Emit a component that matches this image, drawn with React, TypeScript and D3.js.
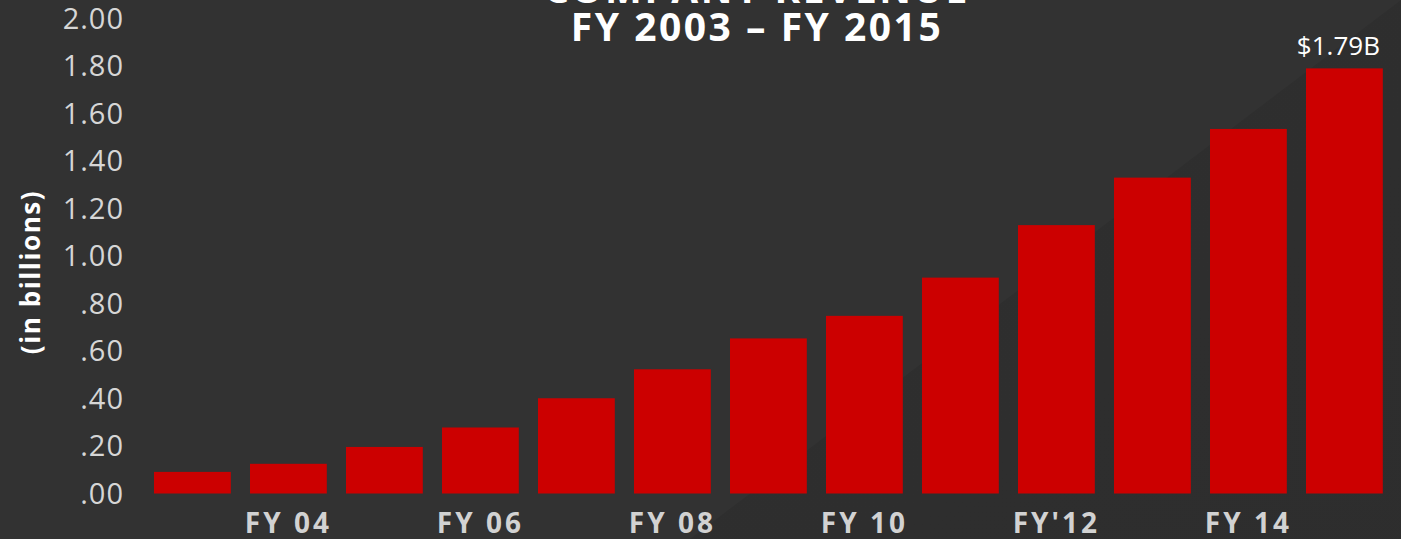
import React from "react";
import * as d3 from "d3";

const years = ["FY03","FY04","FY05","FY06","FY07","FY08","FY09","FY10","FY11","FY12","FY13","FY14","FY15"];
const revenue = [0.091, 0.125, 0.196, 0.278, 0.401, 0.523, 0.653, 0.748, 0.909, 1.13, 1.33, 1.535, 1.79];
const xTickLabels = ["", "FY 04", "", "FY 06", "", "FY 08", "", "FY 10", "", "FY'12", "", "FY 14", ""];
const yTickValues = [0, 0.2, 0.4, 0.6, 0.8, 1.0, 1.2, 1.4, 1.6, 1.8, 2.0];
const yTickLabels = [".00", ".20", ".40", ".60", ".80", "1.00", "1.20", "1.40", "1.60", "1.80", "2.00"];
const titleLines = ["COMPANY REVENUE", "FY 2003 – FY 2015"];
const annotation = "$1.79B";
const yAxisTitle = "(in billions)";

const W = 1401, H = 539;

export default function App() {
  const x = d3.scaleBand<string>().domain(years).range([144.4, 1392.4]).paddingInner(0.2).paddingOuter(0.1);
  const y = d3.scaleLinear().domain([0, 2]).range([493.5, 18.5]);
  const font = "'Open Sans', Lato, sans-serif";
  const last = years.length - 1;
  return (
    <svg width={W} height={H} style={{ position: "absolute", left: 0, top: 0, display: "block" }}>
      <defs>
        <linearGradient id="bgshade" x1="0" y1="0" x2="1" y2="1">
          <stop offset="0" stopColor="#2c2c2c" />
          <stop offset="1" stopColor="#2a2a2a" />
        </linearGradient>
      </defs>
      <rect x={0} y={0} width={W} height={H} fill="#323232" />
      <polygon points={`${W},0 ${W},${H} 690,${H}`} fill="url(#bgshade)" opacity={0.55} />
      {/* title */}
      <text x={757} y={3} textAnchor="middle" fill="#ffffff" fontFamily={font} fontWeight={700} fontSize={39} letterSpacing={2.5}>{titleLines[0]}</text>
      <text x={757} y={41} textAnchor="middle" fill="#ffffff" fontFamily={font} fontWeight={700} fontSize={39} letterSpacing={2.5}>{titleLines[1]}</text>
      {/* y axis title */}
      <text transform="translate(40,272) rotate(-90)" textAnchor="middle" fill="#ffffff" fontFamily={font} fontWeight={700} fontSize={26} letterSpacing={1.6}>{yAxisTitle}</text>
      {/* y ticks */}
      {yTickValues.map((v, i) => (
        <text key={i} x={124} y={y(v)} dy="0.36em" textAnchor="end" fill="#d6d6d6" fontFamily={font} fontWeight={400} fontSize={29} letterSpacing={1}>{yTickLabels[i]}</text>
      ))}
      {/* bars */}
      {years.map((yr, i) => (
        <rect key={yr} x={x(yr)} y={y(revenue[i])} width={x.bandwidth()} height={y(0) - y(revenue[i])} fill="#cc0000" />
      ))}
      {/* x labels */}
      {years.map((yr, i) => xTickLabels[i] ? (
        <text key={yr} x={(x(yr) as number) + x.bandwidth() / 2} y={533} textAnchor="middle" fill="#d2d2d2" fontFamily={font} fontWeight={700} fontSize={28} letterSpacing={3}>{xTickLabels[i]}</text>
      ) : null)}
      {/* annotation */}
      <text x={(x(years[last]) as number) + x.bandwidth() / 2 - 6} y={55} textAnchor="middle" fill="#ffffff" fontFamily={font} fontWeight={400} fontSize={26}>{annotation}</text>
    </svg>
  );
}
